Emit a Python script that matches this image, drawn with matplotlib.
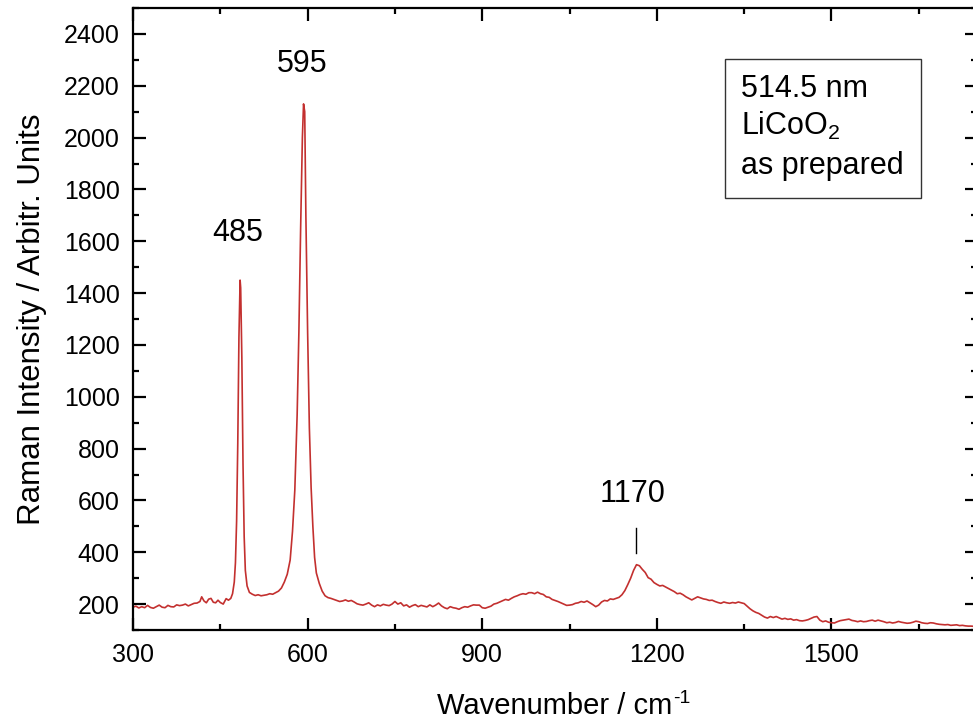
import matplotlib
matplotlib.use("Agg")
import matplotlib.pyplot as plt
from matplotlib.patches import Rectangle
from matplotlib.ticker import MultipleLocator

plt.rcParams['font.family'] = ['Liberation Sans', 'DejaVu Sans']
plt.rcParams['mathtext.fontset'] = 'custom'
plt.rcParams['mathtext.rm'] = 'Liberation Sans'
plt.rcParams['mathtext.it'] = 'Liberation Sans'
plt.rcParams['mathtext.default'] = 'regular'

wavenumber = [
    300, 305, 310, 315, 320, 325, 330, 335, 340, 345, 350, 355, 360, 365, 370, 375, 380, 385, 390, 395,
    400, 405, 410, 415, 418, 422, 426, 430, 434, 438, 442, 446, 450, 455, 460, 464, 468, 471, 474, 476,
    478, 480, 482, 484, 485, 487, 489, 491, 493, 496, 500, 505, 510, 515, 520, 525, 530, 535, 540, 545,
    550, 555, 560, 565, 570, 574, 578, 582, 585, 588, 591, 593, 595, 597, 600, 603, 606, 609, 612, 615,
    620, 625, 630, 635, 640, 645, 650, 655, 660, 665, 670, 675, 680, 685, 690, 695, 700, 705, 710, 715,
    720, 725, 730, 735, 740, 745, 750, 755, 760, 765, 770, 775, 780, 785, 790, 795, 800, 805, 810, 815,
    820, 825, 830, 835, 840, 845, 850, 855, 860, 865, 870, 875, 880, 885, 890, 895, 900, 905, 910, 915,
    920, 925, 930, 935, 940, 945, 950, 955, 960, 965, 970, 975, 980, 985, 990, 995, 1000, 1005, 1010, 1015,
    1020, 1025, 1030, 1035, 1040, 1045, 1050, 1055, 1060, 1065, 1070, 1075, 1080, 1085, 1090, 1095, 1100, 1105, 1110, 1115,
    1120, 1125, 1130, 1135, 1140, 1145, 1150, 1155, 1160, 1165, 1170, 1175, 1180, 1185, 1190, 1195, 1200, 1205, 1210, 1215,
    1220, 1225, 1230, 1235, 1240, 1245, 1250, 1255, 1260, 1265, 1270, 1275, 1280, 1285, 1290, 1295, 1300, 1305, 1310, 1315,
    1320, 1325, 1330, 1335, 1340, 1345, 1350, 1355, 1360, 1365, 1370, 1375, 1380, 1385, 1390, 1395, 1400, 1405, 1410, 1415,
    1420, 1425, 1430, 1435, 1440, 1445, 1450, 1455, 1460, 1465, 1470, 1475, 1480, 1485, 1490, 1495, 1500, 1505, 1510, 1515,
    1520, 1525, 1530, 1535, 1540, 1545, 1550, 1555, 1560, 1565, 1570, 1575, 1580, 1585, 1590, 1595, 1600, 1605, 1610, 1615,
    1620, 1625, 1630, 1635, 1640, 1645, 1650, 1655, 1660, 1665, 1670, 1675, 1680, 1685, 1690, 1695, 1700, 1705, 1710, 1715,
    1720, 1725, 1730, 1735, 1740, 1745, 1750,
]

intensity = [
    188, 192, 185, 190, 186, 195, 187, 184, 190, 196, 188, 186, 195, 190, 189, 197, 194, 196, 200, 193,
    198, 203, 204, 210, 228, 212, 205, 219, 222, 207, 205, 215, 206, 200, 221, 215, 222, 240, 285, 360,
    520, 820, 1230, 1450, 1420, 1150, 740, 460, 330, 270, 245, 238, 233, 236, 232, 234, 236, 240, 238, 244,
    250, 262, 285, 315, 370, 480, 640, 930, 1250, 1650, 2000, 2130, 2100, 1700, 1250, 880, 650, 500, 380, 320,
    280, 250, 232, 225, 222, 218, 214, 210, 212, 216, 211, 214, 208, 201, 198, 196, 200, 205, 196, 190,
    197, 193, 199, 196, 194, 200, 210, 200, 205, 193, 197, 188, 194, 198, 190, 195, 192, 189, 197, 190,
    196, 204, 193, 186, 182, 190, 186, 184, 180, 186, 190, 188, 193, 197, 196, 196, 186, 184, 188, 192,
    200, 203, 208, 213, 218, 215, 222, 228, 232, 237, 240, 238, 244, 244, 240, 246, 240, 237, 228, 226,
    218, 214, 210, 205, 200, 195, 196, 198, 203, 205, 210, 207, 212, 205, 198, 190, 196, 208, 214, 212,
    220, 218, 222, 226, 236, 252, 275, 300, 330, 352, 348, 334, 322, 302, 296, 283, 276, 270, 272, 266,
    260, 254, 248, 240, 242, 236, 228, 222, 216, 222, 228, 224, 220, 218, 214, 215, 210, 206, 203, 208,
    205, 203, 206, 204, 208, 205, 202, 192, 182, 174, 168, 164, 157, 150, 146, 152, 148, 152, 147, 142,
    145, 141, 143, 138, 140, 136, 135, 137, 140, 145, 150, 152, 138, 132, 135, 130, 128, 127, 132, 136,
    138, 140, 142, 137, 135, 132, 135, 132, 133, 136, 138, 134, 138, 135, 132, 128, 130, 127, 129, 133,
    130, 128, 126, 127, 130, 134, 132, 128, 126, 125, 128, 127, 124, 122, 121, 120, 121, 118, 119, 120,
    117, 118, 116, 115, 115, 114, 113,
]

peak_labels = ["485", "595", "1170"]
peak_label_x = [480, 591, 1159]
peak_label_y = [1600, 2254, 592]
marker_x = 1165
marker_y = [396, 492]

box_lines = ["514.5 nm", "LiCoO$_2$", "as prepared"]

fig = plt.figure(figsize=(9.73, 7.26), dpi=100)
ax = fig.add_axes([133 / 973, 96 / 726, 844 / 973, 622 / 726])

ax.plot(wavenumber, intensity, color='#c3302f', lw=1.2)
ax.set_xlim(300, 1750)
ax.set_ylim(100, 2500)

ax.xaxis.set_major_locator(MultipleLocator(300))
ax.xaxis.set_minor_locator(MultipleLocator(150))
ax.yaxis.set_minor_locator(MultipleLocator(100))
ax.set_yticks(range(200, 2401, 200))

ax.tick_params(which='both', direction='in', top=True, right=True, width=1.6, labelsize=18, pad=9.5)
ax.tick_params(which='major', length=9)
ax.tick_params(which='minor', length=4.5)
for sp in ax.spines.values():
    sp.set_linewidth(1.6)

xl = ax.set_xlabel("Wavenumber / cm", fontsize=21, labelpad=18)
ax.set_ylabel("Raman Intensity / Arbitr. Units", fontsize=22.5, labelpad=12)

for lab, lx, ly in zip(peak_labels, peak_label_x, peak_label_y):
    ax.text(lx, ly, lab, fontsize=22, ha='center', va='baseline')
ax.plot([marker_x, marker_x], marker_y, color='black', lw=1.0)

ax.add_patch(Rectangle((1317, 1765), 1654 - 1317, 2304 - 1765, fill=False,
                       edgecolor='#333333', lw=1.0, zorder=3))
for txt, by in zip(box_lines, [2158, 2011, 1858]):
    ax.text(1344, by, txt, fontsize=22, ha='left', va='baseline')

# superscript "-1" after the x-axis label
fig.canvas.draw()
bb = xl.get_window_extent()
fig.text((bb.x1 + 1) / fig.bbox.width, (bb.y1 + 2) / fig.bbox.height, "-1",
         fontsize=14, ha='left', va='top')

fig.savefig("out.png", dpi=100)
